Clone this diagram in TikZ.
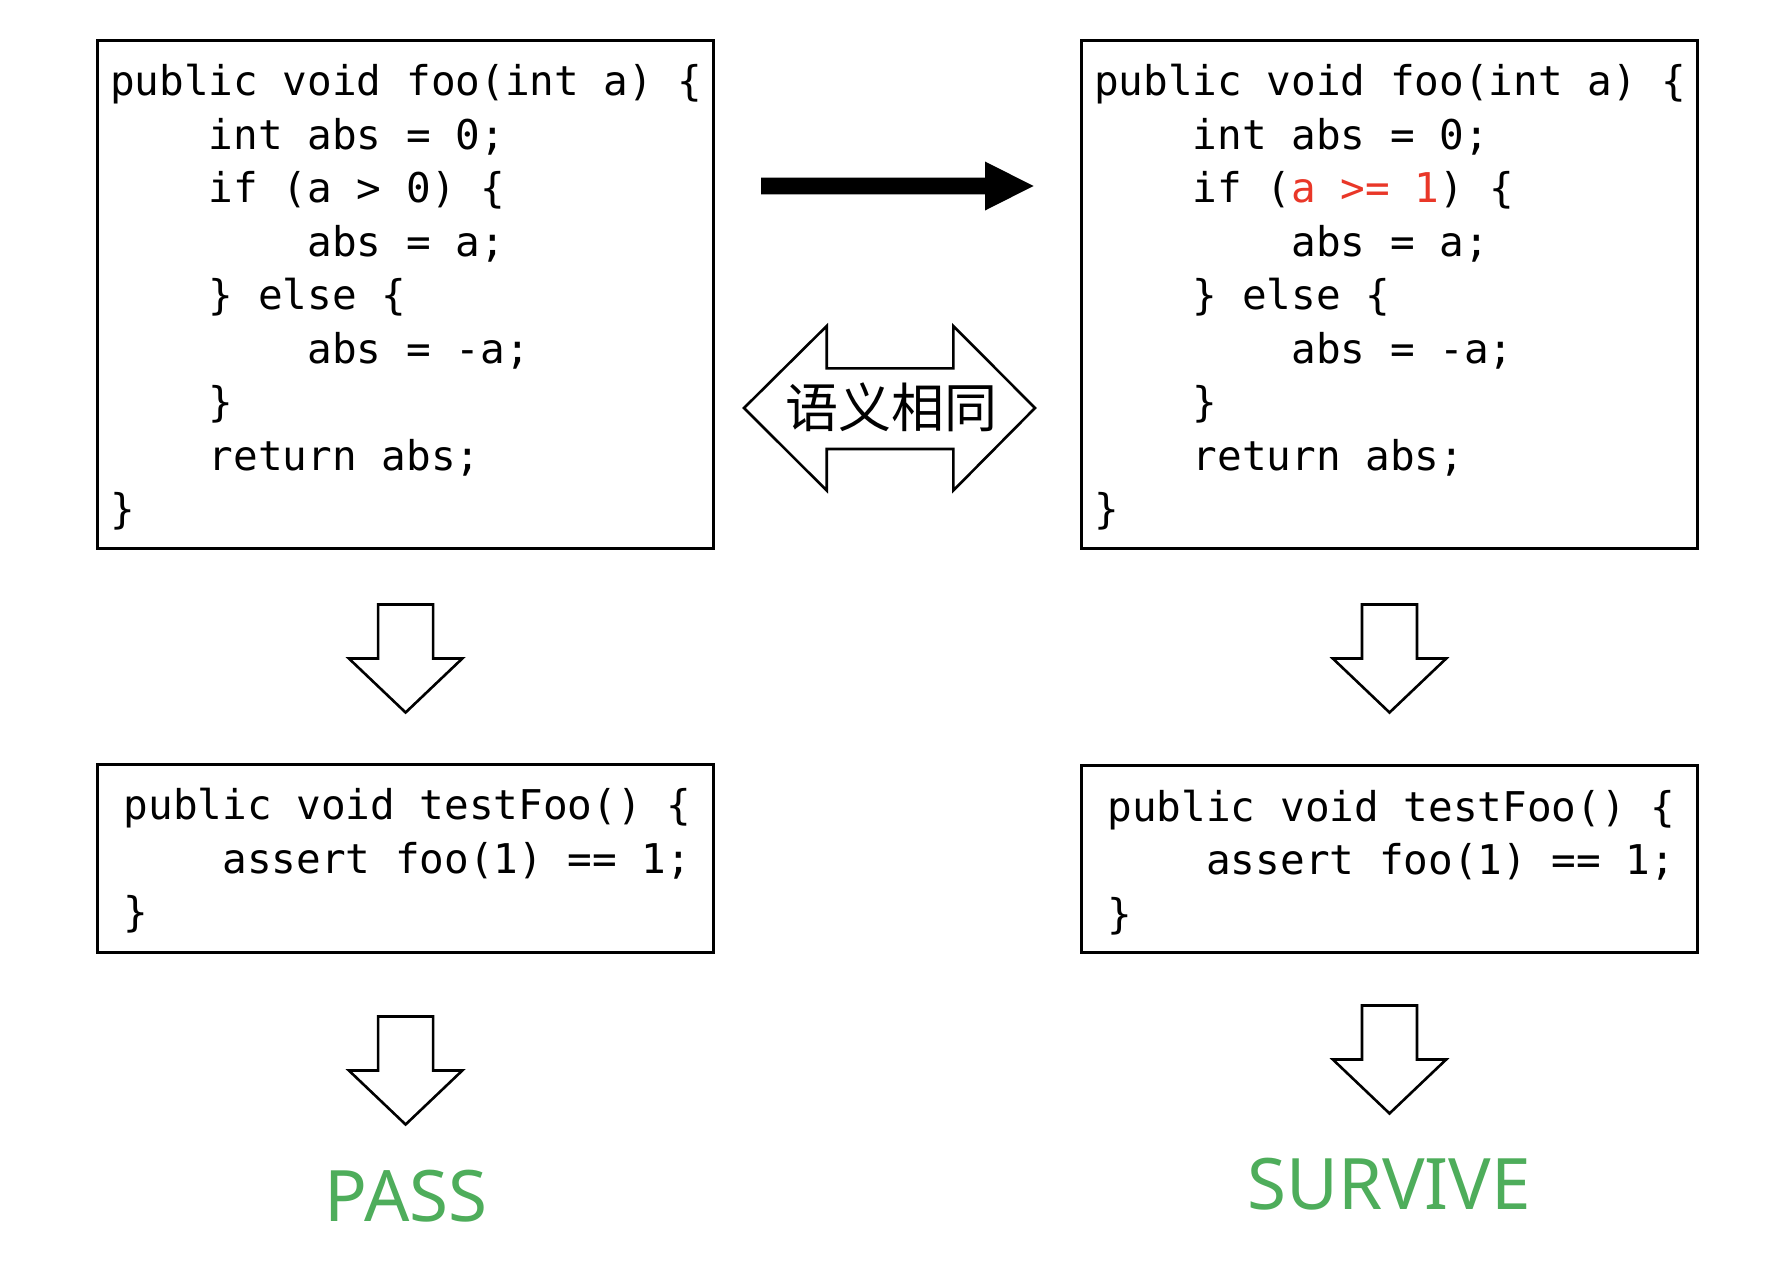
\documentclass[tikz,border=0pt]{standalone}
\usepackage{fontspec}
\usetikzlibrary{calc}
\newfontfamily\codefont{DejaVu Sans Mono}
\newfontfamily\cjkfont{Noto Sans CJK SC}
\newfontfamily\labelfont{Noto Sans}
\definecolor{mutred}{RGB}{233,55,40}
\definecolor{okgreen}{RGB}{78,173,91}
\newcommand\ind{\phantom{xxxx}}
\newcommand\topstrut{\rule{0pt}{20pt}}
% one drawing unit is 0.5pt
\tikzset{
  codebox/.style={draw, line width=1.5pt, minimum width=308.35pt, minimum height=#1, inner sep=0pt},
  code/.style={anchor=north west, inner sep=0pt, align=left,
    font=\codefont\fontsize{20.5}{26.75}\selectfont},
  outline/.style={draw, line width=1.3pt, fill=white, line join=miter},
  result/.style={text=okgreen, font=\labelfont\fontsize{35.5}{40}\selectfont, inner sep=0pt},
  dnarrow/.pic={
    \draw[outline] (-27.5,0) -- (27.5,0) -- (27.5,54) -- (56.7,54) -- (0,108)
      -- (-56.7,54) -- (-27.5,54) -- cycle;
  }
}
\begin{document}
\begin{tikzpicture}[x=0.5pt,y=-0.5pt]
\fill[white] (0,0) rectangle (1786,1274);
\useasboundingbox (0,0) rectangle (1786,1274);

% code boxes
\node[codebox=254pt] (top1) at (405.6,294) {};
\node[codebox=254pt] (top2) at (1389.5,294) {};
\node[codebox=94pt] (bot1) at (405.6,858) {};
\node[codebox=93.75pt] (bot2) at (1389.5,859.2) {};

% original method
\node[code] (src1) at ([shift={(14,17)}]top1.north west) {\topstrut public void foo(int a) \{\\
\ind int abs = 0;\\
\ind if (a > 0) \{\\
\ind\ind abs = a;\\
\ind\} else \{\\
\ind\ind abs = -a;\\
\ind\}\\
\ind return abs;\\
\}};

% mutated method
\node[code] (src2) at ([shift={(14,17)}]top2.north west) {\topstrut public void foo(int a) \{\\
\ind int abs = 0;\\
\ind if (\textcolor{mutred}{a >= 1}) \{\\
\ind\ind abs = a;\\
\ind\} else \{\\
\ind\ind abs = -a;\\
\ind\}\\
\ind return abs;\\
\}};

% test cases
\node[code] (test1) at ([shift={(27.5,17)}]bot1.north west) {\topstrut public void testFoo() \{\\
\ind assert foo(1) == 1;\\
\}};
\node[code] (test2) at ([shift={(27.5,17)}]bot2.north west) {\topstrut public void testFoo() \{\\
\ind assert foo(1) == 1;\\
\}};

% mutation arrow
\fill (761,177.7) -- (985,177.7) -- (985,161.5) -- (1033.5,186) -- (985,210.5)
  -- (985,194.3) -- (761,194.3) -- cycle;

% equivalence arrow with its label
\draw[outline] (744,408) -- (826.7,326) -- (826.7,368.3) -- (953.3,368.3) -- (953.3,326)
  -- (1035,408) -- (953.3,490.5) -- (953.3,449) -- (826.7,449) -- (826.7,490.5) -- cycle;
\node[font=\cjkfont\fontsize{26.5}{30}\selectfont, inner sep=0pt] (samelabel) at (891,407) {语义相同};

% flow arrows
\pic (d1) at ($(top1.south)+(0,55)$) {dnarrow};
\pic (d2) at ($(top2.south)+(0,55)$) {dnarrow};
\pic (d3) at ($(bot1.south)+(0,63)$) {dnarrow};
\pic (d4) at ($(bot2.south)+(0,51)$) {dnarrow};

% outcomes
\node[result] (pass) at (406,1196) {PASS};
\node[result] (survive) at (1389,1184) {SURVIVE};
\end{tikzpicture}
\end{document}
